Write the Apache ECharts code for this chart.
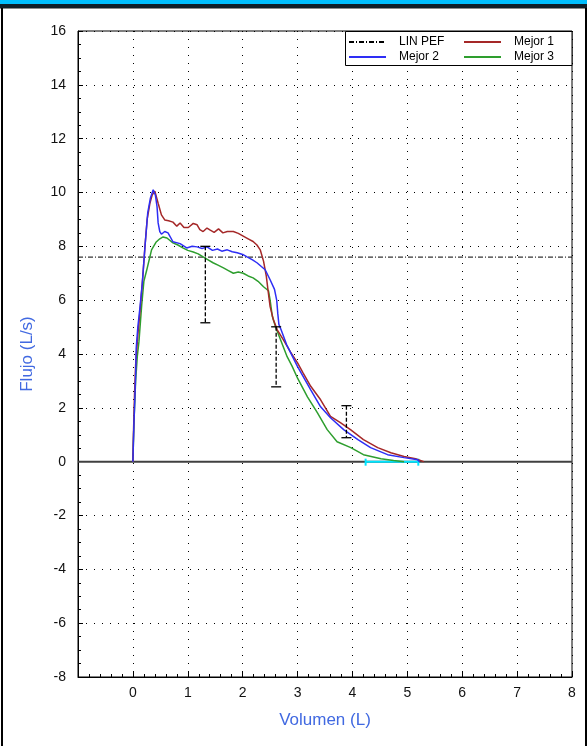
<!DOCTYPE html>
<html>
<head>
<meta charset="utf-8">
<script src="https://cdn.jsdelivr.net/npm/echarts@6/dist/echarts.min.js"></script>
<style>
html,body{margin:0;padding:0;background:#fff;}
#c{width:587px;height:746px;}
</style>
</head>
<body>
<div id="c"></div>
<script>
// ---- data ----
const xTicks = [-1,0,1,2,3,4,5,6,7,8];
const yTicks = [-8,-6,-4,-2,0,2,4,6,8,10,12,14,16];
const pefValue = 7.6;

const vol1 = [0,0.01,0.03,0.05,0.09,0.13,0.18,0.22,0.26,0.31,0.35,0.40,0.46,0.52,0.58,0.65,0.73,0.80,0.86,0.93,1.01,1.10,1.17,1.22,1.28,1.35,1.41,1.48,1.56,1.64,1.72,1.83,1.92,2.01,2.10,2.19,2.26,2.32,2.38,2.43,2.46,2.50,2.56,2.63,2.74,2.87,3.00,3.10,3.24,3.42,3.60,3.78,3.97,4.20,4.46,4.70,4.94,5.15,5.30];
const flow1 = [0,1.0,2.5,3.6,4.7,5.6,6.85,8.0,9.0,9.6,9.9,10.05,9.6,9.17,8.98,8.95,8.9,8.75,8.87,8.7,8.7,8.85,8.8,8.62,8.55,8.68,8.6,8.52,8.65,8.5,8.55,8.55,8.48,8.38,8.28,8.18,8.05,7.87,7.45,6.9,6.4,5.76,5.27,4.9,4.53,4.08,3.67,3.3,2.8,2.3,1.68,1.45,1.18,0.82,0.52,0.33,0.19,0.11,0];

const vol2 = [0,0.02,0.03,0.05,0.06,0.09,0.13,0.17,0.22,0.27,0.32,0.37,0.41,0.44,0.46,0.49,0.52,0.58,0.64,0.73,0.86,0.98,1.08,1.17,1.26,1.35,1.45,1.54,1.62,1.72,1.81,1.90,2.00,2.08,2.18,2.26,2.34,2.41,2.50,2.58,2.62,2.64,2.66,2.70,2.80,3.00,3.24,3.42,3.60,3.84,4.10,4.33,4.64,4.94,5.19,5.22];
const flow2 = [0,1.5,2.0,3.2,4.2,5.0,5.75,6.6,7.98,9.24,9.8,10.1,9.9,9.47,8.87,8.55,8.45,8.55,8.5,8.17,8.1,7.94,8.0,7.98,7.92,7.98,7.85,7.9,7.82,7.87,7.8,7.76,7.7,7.61,7.5,7.39,7.25,7.13,6.76,6.4,6.0,5.5,5.1,4.9,4.35,3.53,2.67,2.04,1.63,1.19,0.82,0.52,0.26,0.15,0.07,0];

const vol3 = [0,0.02,0.05,0.08,0.11,0.16,0.20,0.25,0.34,0.42,0.49,0.55,0.62,0.73,0.82,0.91,1.00,1.10,1.19,1.28,1.37,1.46,1.55,1.65,1.74,1.83,1.92,2.01,2.10,2.19,2.28,2.38,2.47,2.50,2.54,2.60,2.69,2.81,2.90,3.00,3.18,3.36,3.54,3.72,3.97,4.20,4.52,4.75,4.94];
const flow3 = [0,1.5,3.0,3.9,4.45,5.8,6.7,7.1,7.87,8.15,8.28,8.35,8.31,8.13,8.05,7.94,7.85,7.79,7.72,7.61,7.5,7.39,7.3,7.2,7.1,7.0,7.05,7.0,6.9,6.83,6.7,6.5,6.35,6.0,5.4,5.0,4.53,3.9,3.55,3.1,2.41,1.82,1.19,0.74,0.52,0.26,0.11,0.04,0];

const errX = [1.32, 2.61, 3.89];
const errLow = [5.16, 2.78, 0.89];
const errHigh = [8.0, 5.01, 2.08];

const markStart = 4.24;
const markEnd = 5.2;

const names = ['LIN PEF','Mejor 1','Mejor 2','Mejor 3'];
// ---- build ----
const FONT = 'Liberation Sans, Arial, sans-serif';
const pair = (xs, ys) => xs.map((x,i)=>[x, ys[i]]);
const xMin = xTicks[0], xMax = xTicks[xTicks.length-1];
const yMin = yTicks[0], yMax = yTicks[yTicks.length-1];

const chart = echarts.init(document.getElementById('c'), null, {renderer:'canvas'});
const dotted = {color:'#000', width:1, type:[1,7]};
const legendPos = [[348,36],[463,36],[348,51],[463,51]];
const legends = names.map((n,i)=>({
  data:[n], left:legendPos[i][0], top:legendPos[i][1],
  itemWidth:37, itemHeight:10, padding:0, selectedMode:false,
  itemStyle:{color:'rgba(0,0,0,0)', borderWidth:0},
  textStyle:{fontSize:12, fontFamily:FONT, color:'#000', padding:[0,0,0,8]}
}));
chart.setOption({
  animation:false,
  grid:{left:78, top:31, right:15, bottom:69, show:true, borderColor:'#000', borderWidth:1, backgroundColor:'transparent'},
  legend:legends,
  graphic:[
    {type:'rect', shape:{x:0,y:0,width:587,height:4}, style:{fill:'#00BFFF'}, z:10},
    {type:'rect', shape:{x:0,y:4,width:587,height:4}, style:{fill:'#0f1e28'}, z:10},
    {type:'rect', shape:{x:0,y:8,width:587,height:1}, style:{fill:'#8a8a8a'}, z:10},
    {type:'line', shape:{x1:2,y1:8,x2:2,y2:746}, style:{stroke:'#000', lineWidth:2}, z:10},
    {type:'line', shape:{x1:586,y1:8,x2:586,y2:746}, style:{stroke:'#000', lineWidth:2}, z:10},
    {type:'rect', shape:{x:345.5,y:31.5,width:226.5,height:34}, style:{fill:'#fff', stroke:'#000', lineWidth:1}, z:3}
  ],
  xAxis:{
    type:'value', min:xMin, max:xMax, interval:1,
    name:'Volumen (L)', nameLocation:'middle', nameGap:35,
    nameTextStyle:{color:'#4169E1', fontSize:17, fontFamily:FONT},
    axisLine:{onZero:false, lineStyle:{color:'#000', width:1}},
    axisTick:{show:true, inside:true, length:5, lineStyle:{color:'#000'}},
    minorTick:{show:true, splitNumber:5, length:3, lineStyle:{color:'#000'}},
    axisLabel:{color:'#111', fontSize:14, fontFamily:FONT, margin:9, formatter:v => v < 0 ? '' : String(v)},
    splitLine:{show:true, lineStyle:dotted}
  },
  yAxis:{
    type:'value', min:yMin, max:yMax, interval:2,
    name:'Flujo (L/s)', nameLocation:'middle', nameGap:42,
    nameTextStyle:{color:'#4169E1', fontSize:17, fontFamily:FONT},
    axisLine:{onZero:false, lineStyle:{color:'#000', width:1}},
    axisTick:{show:true, inside:true, length:5, lineStyle:{color:'#000'}},
    minorTick:{show:true, splitNumber:4, length:3, lineStyle:{color:'#000'}},
    axisLabel:{color:'#111', fontSize:14, fontFamily:FONT, margin:12},
    splitLine:{show:true, lineStyle:dotted}
  },
  series:[
    {name:'zero', type:'line', data:[[xMin,0],[xMax,0]], symbol:'none', silent:true,
     lineStyle:{color:'#404040', width:2}, z:2},
    {name:'marker', type:'custom', data:[[markStart, markEnd]], silent:true, z:3,
     renderItem:(params, api)=>{
       const a = api.coord([api.value(0), 0]);
       const b = api.coord([api.value(1), 0]);
       const st = {stroke:'#00E5FF', lineWidth:2};
       return {type:'group', children:[
         {type:'line', shape:{x1:a[0],y1:a[1],x2:b[0],y2:b[1]}, style:st},
         {type:'line', shape:{x1:a[0],y1:a[1]-3,x2:a[0],y2:a[1]+4}, style:st},
         {type:'line', shape:{x1:b[0],y1:b[1]-3,x2:b[0],y2:b[1]+4}, style:st}
       ]};
     }},
    {name:names[0], type:'line', data:[[xMin,pefValue],[xMax,pefValue]], symbol:'none', silent:true,
     color:'#000', lineStyle:{color:'#000', width:1, type:[5,2,1,2]}, z:4},
    {name:names[3], type:'line', data:pair(vol3, flow3), symbol:'none', color:'#2E9E2E',
     lineStyle:{color:'#2E9E2E', width:1.5}, z:5},
    {name:names[1], type:'line', data:pair(vol1, flow1), symbol:'none', color:'#A52828',
     lineStyle:{color:'#A52828', width:1.5}, z:6},
    {name:names[2], type:'line', data:pair(vol2, flow2), symbol:'none', color:'#2E2EF5',
     lineStyle:{color:'#2E2EF5', width:1.5}, z:7},
    {name:'err', type:'custom', data:errX.map((x,i)=>[x, errLow[i], errHigh[i]]), silent:true, z:8,
     renderItem:(params, api)=>{
       const top = api.coord([api.value(0), api.value(2)]);
       const bot = api.coord([api.value(0), api.value(1)]);
       const st = {stroke:'#000', lineWidth:1.3};
       return {type:'group', children:[
         {type:'line', shape:{x1:top[0],y1:top[1],x2:bot[0],y2:bot[1]}, style:{stroke:'#000', lineWidth:1.3, lineDash:[4,2]}},
         {type:'line', shape:{x1:top[0]-5,y1:top[1],x2:top[0]+5,y2:top[1]}, style:st},
         {type:'line', shape:{x1:bot[0]-5,y1:bot[1],x2:bot[0]+5,y2:bot[1]}, style:st}
       ]};
     }}
  ]
});
</script>
</body>
</html>
